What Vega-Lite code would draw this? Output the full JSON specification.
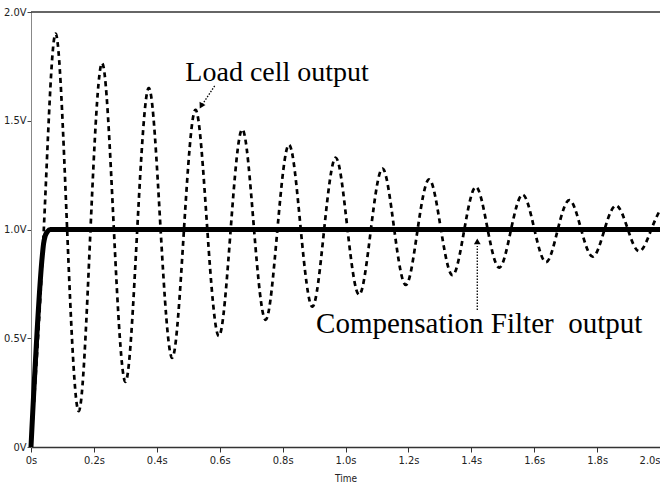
{
  "$schema": "https://vega.github.io/schema/vega-lite/v6.json",
  "width": 629,
  "height": 435,
  "autosize": "none",
  "padding": {"left": 31, "top": 12, "right": 0, "bottom": 42},
  "background": "white",
  "config": {"view": {"stroke": null}},
  "datasets": {
    "load": [
      {"t": 0.0, "v": 0.0},
      {"t": 0.0407, "v": 1.0},
      {"t": 0.0778, "v": 1.9},
      {"t": 0.1149, "v": 1.0},
      {"t": 0.1521, "v": 0.165},
      {"t": 0.1892, "v": 1.0},
      {"t": 0.2264, "v": 1.765},
      {"t": 0.2635, "v": 1.0},
      {"t": 0.3007, "v": 0.3},
      {"t": 0.3378, "v": 1.0},
      {"t": 0.375, "v": 1.65},
      {"t": 0.4121, "v": 1.0},
      {"t": 0.4493, "v": 0.41},
      {"t": 0.4864, "v": 1.0},
      {"t": 0.5235, "v": 1.55},
      {"t": 0.5606, "v": 1.0},
      {"t": 0.5978, "v": 0.51},
      {"t": 0.6349, "v": 1.0},
      {"t": 0.6721, "v": 1.46},
      {"t": 0.7092, "v": 1.0},
      {"t": 0.7464, "v": 0.585},
      {"t": 0.7835, "v": 1.0},
      {"t": 0.8207, "v": 1.39},
      {"t": 0.8578, "v": 1.0},
      {"t": 0.895, "v": 0.645},
      {"t": 0.9321, "v": 1.0},
      {"t": 0.9693, "v": 1.33},
      {"t": 1.0064, "v": 1.0},
      {"t": 1.0436, "v": 0.7},
      {"t": 1.0807, "v": 1.0},
      {"t": 1.1179, "v": 1.28},
      {"t": 1.155, "v": 1.0},
      {"t": 1.1922, "v": 0.745},
      {"t": 1.2293, "v": 1.0},
      {"t": 1.2664, "v": 1.23},
      {"t": 1.3035, "v": 1.0},
      {"t": 1.3407, "v": 0.79},
      {"t": 1.3778, "v": 1.0},
      {"t": 1.415, "v": 1.195},
      {"t": 1.4521, "v": 1.0},
      {"t": 1.4893, "v": 0.825},
      {"t": 1.5264, "v": 1.0},
      {"t": 1.5636, "v": 1.16},
      {"t": 1.6007, "v": 1.0},
      {"t": 1.6379, "v": 0.85},
      {"t": 1.675, "v": 1.0},
      {"t": 1.7122, "v": 1.135},
      {"t": 1.7493, "v": 1.0},
      {"t": 1.7865, "v": 0.875},
      {"t": 1.8236, "v": 1.0},
      {"t": 1.8608, "v": 1.11},
      {"t": 1.8979, "v": 1.0},
      {"t": 1.9351, "v": 0.9},
      {"t": 1.9722, "v": 1.0},
      {"t": 2.0, "v": 1.09}
    ],
    "comp": [
      {"t": 0.0, "v": 0.0},
      {"t": 0.036, "v": 0.88},
      {"t": 0.04, "v": 0.935},
      {"t": 0.045, "v": 0.97},
      {"t": 0.052, "v": 0.99},
      {"t": 0.062, "v": 1.0},
      {"t": 2.0, "v": 1.0}
    ],
    "label1": [
      {"t": 0.7825, "v": 1.683, "text": "Load cell output"}
    ],
    "label2": [
      {"t": 1.425, "v": 0.524, "text": "Compensation Filter\u00a0 output"}
    ],
    "arrows": [
      {"t": 0.584, "v": 1.66, "t2": 0.546, "v2": 1.577},
      {"t": 1.419, "v": 0.63, "t2": 1.419, "v2": 0.924}
    ],
    "heads": [
      {"t": 0.541, "v": 1.568, "ang": 208},
      {"t": 1.419, "v": 0.945, "ang": 0}
    ]
  },
  "layer": [
    {
      "data": {"name": "load"},
      "mark": {"type": "line", "interpolate": "natural", "color": "black", "strokeWidth": 2.7, "strokeDash": [5, 4], "clip": true},
      "encoding": {
        "x": {
          "field": "t", "type": "quantitative",
          "scale": {"domain": [0, 2], "nice": false},
          "axis": {
            "values": [0, 0.2, 0.4, 0.6, 0.8, 1.0, 1.2, 1.4, 1.6, 1.8, 2.0],
            "labelExpr": "datum.value == 0 ? '0s' : format(datum.value, '.1f') + 's'",
            "labelAlign": {"condition": {"test": "datum.value == 2", "value": "right"}, "value": "center"},
            "title": "Time",
            "titleFont": "DejaVu Sans Condensed, Liberation Sans Narrow, Liberation Sans, sans-serif",
            "titleFontSize": 10,
            "titleFontWeight": "normal",
            "titleColor": "#222",
            "titlePadding": 8,
            "labelFont": "DejaVu Sans Condensed, Liberation Sans Narrow, Liberation Sans, sans-serif",
            "labelFontSize": 11,
            "labelColor": "#222",
            "labelPadding": 2,
            "tickSize": 5,
            "tickColor": "#333",
            "domainColor": "#333",
            "domainWidth": 1.5,
            "grid": false
          }
        },
        "y": {
          "field": "v", "type": "quantitative",
          "scale": {"domain": [0, 2], "nice": false},
          "axis": {
            "values": [0, 0.5, 1.0, 1.5, 2.0],
            "labelExpr": "datum.value == 0 ? '0V' : format(datum.value, '.1f') + 'V'",
            "title": null,
            "labelFont": "DejaVu Sans Condensed, Liberation Sans Narrow, Liberation Sans, sans-serif",
            "labelFontSize": 11,
            "labelColor": "#222",
            "labelPadding": 1,
            "tickSize": 4,
            "tickColor": "#444",
            "domainColor": "#888",
            "grid": false
          }
        }
      }
    },
    {
      "data": {"name": "comp"},
      "mark": {"type": "line", "interpolate": "monotone", "color": "black", "strokeWidth": 5, "strokeCap": "butt"},
      "encoding": {
        "x": {"field": "t", "type": "quantitative"},
        "y": {"field": "v", "type": "quantitative"}
      }
    },
    {
      "data": {"values": [{"v": 2}]},
      "mark": {"type": "rule", "color": "#333", "strokeWidth": 1.5},
      "encoding": {"y": {"field": "v", "type": "quantitative"}}
    },
    {
      "data": {"name": "arrows"},
      "mark": {"type": "rule", "color": "black", "strokeWidth": 1.3, "strokeDash": [1.5, 1.5]},
      "encoding": {
        "x": {"field": "t", "type": "quantitative"},
        "y": {"field": "v", "type": "quantitative"},
        "x2": {"field": "t2"},
        "y2": {"field": "v2"}
      }
    },
    {
      "data": {"name": "heads"},
      "mark": {"type": "point", "shape": "triangle-up", "filled": true, "color": "black", "size": 45, "opacity": 1},
      "encoding": {
        "x": {"field": "t", "type": "quantitative"},
        "y": {"field": "v", "type": "quantitative"},
        "angle": {"field": "ang", "type": "quantitative", "scale": null}
      }
    },
    {
      "data": {"name": "label1"},
      "mark": {"type": "text", "font": "Liberation Serif", "fontSize": 28, "color": "black", "align": "center", "baseline": "alphabetic"},
      "encoding": {
        "x": {"field": "t", "type": "quantitative"},
        "y": {"field": "v", "type": "quantitative"},
        "text": {"field": "text"}
      }
    },
    {
      "data": {"name": "label2"},
      "mark": {"type": "text", "font": "Liberation Serif", "fontSize": 29, "color": "black", "align": "center", "baseline": "alphabetic"},
      "encoding": {
        "x": {"field": "t", "type": "quantitative"},
        "y": {"field": "v", "type": "quantitative"},
        "text": {"field": "text"}
      }
    }
  ]
}
